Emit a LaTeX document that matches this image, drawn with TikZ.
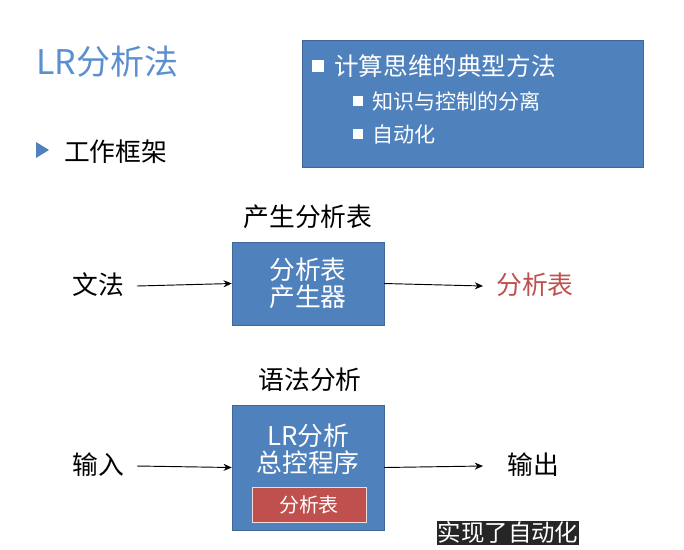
\documentclass[tikz,border=0pt]{standalone}
\usepackage{fontspec}
\setmainfont{Noto Sans CJK SC}
\usepackage{xcolor}
\usetikzlibrary{arrows.meta,positioning}
\definecolor{slideblue}{HTML}{4F81BD}
\definecolor{titleblue}{HTML}{5B8FCF}
\definecolor{tablered}{HTML}{C0504D}
\begin{document}
\begin{tikzpicture}[
    x=0.03cm, y=-0.03cm,
    node distance=5mm,
    % blue boxes of the slide
    bluebox/.style={
        draw=slideblue!80!black,
        fill=slideblue,
        text=white,
        align=center,
        inner sep=0pt,
        font=\fontsize{22pt}{26pt}\selectfont},
    label text/.style={font=\fontsize{22pt}{26pt}\selectfont},
    item text/.style={text=white,anchor=west,inner sep=0pt},
    flow/.style={-{Stealth[length=7pt,width=6pt]},thick}
  ]
  \useasboundingbox (0,0) rectangle (684,549);
  % title and bullet
  \node (title) [text=titleblue,anchor=west,font=\fontsize{29pt}{32pt}\selectfont] at (32,62) {LR分析法};
  \fill[slideblue] (36,142) -- (49,150) -- (36,158) -- cycle;
  \node (frame) [anchor=west,font=\fontsize{22pt}{26pt}\selectfont] at (60,152) {工作框架};
  % box with the idea
  \node (idea) [bluebox,minimum width=341*0.03cm,minimum height=127*0.03cm] at (472.5,103.5) {};
  \fill[white] (312,60) rectangle (324,72);
  \node (item1) [item text,font=\fontsize{21pt}{24pt}\selectfont] at (334,66) {计算思维的典型方法};
  \fill[white] (353,96) rectangle (363,106);
  \node (item2) [item text,font=\fontsize{18pt}{22pt}\selectfont] at (372,101) {知识与控制的分离};
  \fill[white] (353,129) rectangle (363,139);
  \node (item3) [item text,font=\fontsize{18pt}{22pt}\selectfont] at (372,134) {自动化};
  % making the table
  \node (maketitle) [label text] at (308,217) {产生分析表};
  \node (maker) [bluebox,minimum width=152*0.03cm,minimum height=83*0.03cm] at (308,283.5) {分析表\\[-3pt]产生器};
  \node (grammar) [label text] at (98,285) {文法};
  \node (table) [label text,text=tablered] at (535,285) {分析表};
  \draw[flow] (137,286) -- (maker.west);
  \draw[flow] (maker.east) -- (483,286);
  % parsing
  \node (parsetitle) [label text] at (310,380) {语法分析};
  \node (driver) [bluebox,minimum width=152*0.03cm,minimum height=125*0.03cm] at (308,467.5) {};
  \node (driverlabel) [text=white,align=center,font=\fontsize{22pt}{26pt}\selectfont] at (308,449) {LR分析\\[-3pt]总控程序};
  \node (inner) [draw=white!80!tablered,fill=tablered,text=white,minimum width=114*0.03cm,minimum height=35*0.03cm,inner sep=0pt,font=\fontsize{17pt}{20pt}\selectfont] at (309,504.5) {分析表};
  \node (input) [label text] at (98,465) {输入};
  \node (output) [label text] at (533,465) {输出};
  \draw[flow] (137,466) -- (driver.west);
  \draw[flow] (driver.east) -- (483,466);
  % caption at the bottom
  \node (caption) [text=white,fill=black!85,inner sep=1pt,font=\fontsize{20pt}{22pt}\selectfont] at (508,533) {实现了自动化};
\end{tikzpicture}
\end{document}
